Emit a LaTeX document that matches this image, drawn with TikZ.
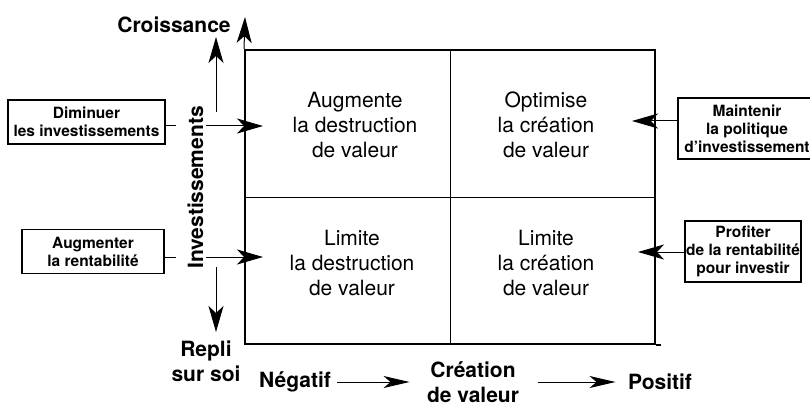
\documentclass[tikz,border=0pt]{standalone}
\usepackage{fontspec}
\setmainfont{TeX Gyre Heros}
\usetikzlibrary{arrows.meta}

\tikzset{
  quadtext/.style={align=center, font=\fontsize{21}{25}\selectfont},
  axislabel/.style={align=center, font=\bfseries\fontsize{21}{25}\selectfont},
  actionbox/.style={draw, line width=1.6, align=center, inner sep=0, font=\bfseries\fontsize{15.5}{18}\selectfont},
  arrowline/.style={-{Stealth[length=26pt, width=15pt, inset=7pt]}, line width=1},
  flatarrow/.style={-{Stealth[length=26pt, width=12pt, inset=7pt]}, line width=1}
}

\begin{document}
\begin{tikzpicture}[x=1pt, y=-1pt]

\useasboundingbox (0,0) rectangle (810,406);

% matrix

\node[draw, line width=2, minimum width=410, minimum height=294, inner sep=0] (mat) at (450,197) {};
\draw[line width=1] (mat.north) -- (mat.south);
\draw[line width=1] (mat.west) -- (mat.east);
\draw[line width=2] (mat.south east) -- ++(5,0);

% quadrant texts

\node[quadtext] (augm) at (355,125) {Augmente\\la destruction\\de valeur};
\node[quadtext] (optim) at (546,125) {Optimise\\la cr\'eation\\de valeur};
\node[quadtext] (limd) at (352,263) {Limite\\la destruction\\de valeur};
\node[quadtext] (limc) at (546,263) {Limite\\la cr\'eation\\de valeur};

% action boxes

\node[actionbox, minimum width=157, minimum height=44] (dimin) at (86.5,122) {Diminuer\\les investissements};
\node[actionbox, minimum width=142, minimum height=44] (augrent) at (93,251.5) {Augmenter\\la rentabilit\'e};
\node[actionbox, minimum width=138, minimum height=61] (maint) at (747,128.5) {Maintenir\\la politique\\d'investissement};
\node[actionbox, minimum width=116, minimum height=61] (profit) at (743,251.5) {Profiter\\de la rentabilit\'e\\pour investir};

% arrow tips inside the matrix

\coordinate (tipdimin) at (263,126);
\coordinate (tipaug) at (263,257);
\coordinate (tipmaint) at (632,121);
\coordinate (tipprofit) at (638,252);

\draw [arrowline] (dimin.east |- tipdimin) -- (tipdimin);
\draw [arrowline] (augrent.east |- tipaug) -- (tipaug);
\draw [arrowline] (maint.west |- tipmaint) -- (tipmaint);
\draw [arrowline] (profit.west |- tipprofit) -- (tipprofit);

% vertical axis

\node[axislabel, rotate=90, fill=white, text height=24, text depth=0, inner xsep=0, inner ysep=3] (invest) at (191,187.5) {Investissements};
\node[axislabel] (crois) at (174,25) {Croissance};
\node[axislabel] (repli) at (206,361) {Repli\\sur soi};

\coordinate (ytip) at (245,17);
\coordinate (upfrom) at (216,112);
\coordinate (upto) at (216,37);
\coordinate (downfrom) at (216,267);
\coordinate (downto) at (216,332);

\draw [arrowline] (mat.north west) -- (ytip);
\draw [arrowline] (upfrom) -- (upto);
\draw [arrowline] (downfrom) -- (downto);

% horizontal axis

\node[axislabel] (negat) at (295,382) {N\'egatif};
\node[axislabel] (creat) at (473,382) {Cr\'eation\\de valeur};
\node[axislabel] (posit) at (660,382) {Positif};

\draw [flatarrow, shorten <=3, shorten >=14] (negat) -- (creat);
\draw [flatarrow, shorten <=16, shorten >=9] (creat) -- (posit);

\end{tikzpicture}
\end{document}
